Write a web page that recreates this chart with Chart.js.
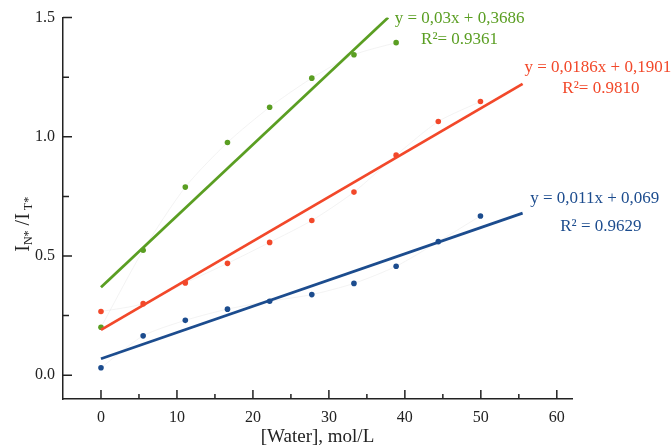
<!DOCTYPE html>
<html>
<head>
<meta charset="utf-8">
<script src="https://cdn.jsdelivr.net/npm/chart.js@4.4.1/dist/chart.umd.min.js"></script>
<style>
  html, body { margin: 0; padding: 0; background: #fff; }
  canvas { display: block; }
</style>
</head>
<body>
<canvas id="chart" width="672" height="447"></canvas>
<script>
// [Water] concentrations, mol/L
let waterX = [0, 5.55, 11.1, 16.65, 22.2, 27.75, 33.3, 38.85, 44.4, 49.95];
let greenY = [0.201, 0.524, 0.789, 0.976, 1.124, 1.246, 1.344, 1.395];
let redY = [0.267, 0.300, 0.387, 0.469, 0.557, 0.649, 0.768, 0.923, 1.064, 1.148];
let blueY = [0.031, 0.165, 0.230, 0.277, 0.310, 0.338, 0.385, 0.457, 0.560, 0.668];

// fitted line end points [x0, x1], [y0, y1]
let greenFitX = [0, 37.8], greenFitY = [0.369, 1.5];
let redFitX = [0, 55.5], redFitY = [0.190, 1.222];
let blueFitX = [0, 55.5], blueFitY = [0.069, 0.680];

let eqLabels = ["y = 0,03x + 0,3686", "y = 0,0186x + 0,1901", "y = 0,011x + 0,069"];
let r2Labels = ["R\u00B2= 0.9361", "R\u00B2= 0.9810", "R\u00B2 = 0.9629"];

let xTicks = [0, 10, 20, 30, 40, 50, 60];
let xMinor = [5, 15, 25, 35, 45, 55];
let yTicks = [0.0, 0.5, 1.0, 1.5];
let yMinor = [0.25, 0.75, 1.25];

let GREEN = "#5a9e22";
let RED = "#f2482a";
let BLUE = "#1c4c8e";
let SERIF = "'Liberation Serif', 'Times New Roman', serif";

function pts(xs, ys) {
  return ys.map((y, i) => ({ x: xs[i], y: y }));
}

function series(label, ys, color) {
  return {
    label: label,
    data: pts(waterX, ys),
    showLine: true,
    borderColor: "rgba(200,200,200,0.22)",
    borderWidth: 1,
    tension: 0.25,
    pointRadius: 2.8,
    pointBorderWidth: 0,
    pointBackgroundColor: color
  };
}

function fit(label, xs, ys, color) {
  return {
    label: label,
    data: pts(xs, ys),
    showLine: true,
    borderColor: color,
    borderWidth: 2.8,
    pointRadius: 0
  };
}

// inward tick marks, equations and the y title with subscripts
let decor = {
  id: "decor",
  afterDraw(chart) {
    let ctx = chart.ctx;
    let xs = chart.scales.x, ys = chart.scales.y;
    let area = chart.chartArea;
    ctx.save();
    ctx.strokeStyle = "#222";
    ctx.lineWidth = 1.5;
    ctx.beginPath();
    xTicks.forEach(v => { let p = xs.getPixelForValue(v); ctx.moveTo(p, area.bottom); ctx.lineTo(p, area.bottom - 9); });
    xMinor.forEach(v => { let p = xs.getPixelForValue(v); ctx.moveTo(p, area.bottom); ctx.lineTo(p, area.bottom - 5); });
    yTicks.forEach(v => { let p = ys.getPixelForValue(v); ctx.moveTo(area.left, p); ctx.lineTo(area.left + 9, p); });
    yMinor.forEach(v => { let p = ys.getPixelForValue(v); ctx.moveTo(area.left, p); ctx.lineTo(area.left + 6, p); });
    ctx.stroke();

    // fit equations
    let notes = [
      [eqLabels[0], GREEN, 47.2, 1.496], [r2Labels[0], GREEN, 47.2, 1.408],
      [eqLabels[1], RED, 65.4, 1.291], [r2Labels[1], RED, 65.8, 1.203],
      [eqLabels[2], BLUE, 65.0, 0.740], [r2Labels[2], BLUE, 65.8, 0.623]
    ];
    ctx.font = "17px " + SERIF;
    ctx.textAlign = "center";
    ctx.textBaseline = "middle";
    notes.forEach(n => {
      ctx.fillStyle = n[1];
      ctx.fillText(n[0], xs.getPixelForValue(n[2]), ys.getPixelForValue(n[3]));
    });

    // y axis title: I_N* /I_T*
    let parts = [["I", 20, 0], ["N*", 12, 5], [" /I", 20, 0], [" T*", 12, 5]];
    let total = 0;
    parts.forEach(p => { ctx.font = p[1] + "px " + SERIF; p.push(ctx.measureText(p[0]).width); total += p[3]; });
    ctx.translate(24, (area.top + area.bottom) / 2 + 16);
    ctx.rotate(-Math.PI / 2);
    ctx.fillStyle = "#222";
    ctx.textAlign = "left";
    let x = -total / 2;
    parts.forEach(p => {
      ctx.font = p[1] + "px " + SERIF;
      ctx.fillText(p[0], x, p[2]);
      x += p[3];
    });
    ctx.restore();
  }
};

let config = {
  type: "scatter",
  data: {
    datasets: [
      fit("green fit", greenFitX, greenFitY, GREEN),
      fit("red fit", redFitX, redFitY, RED),
      fit("blue fit", blueFitX, blueFitY, BLUE),
      series("green", greenY, GREEN),
      series("red", redY, RED),
      series("blue", blueY, BLUE)
    ]
  },
  options: {
    responsive: false,
    animation: false,
    layout: { padding: { top: 17, right: 100, left: 0, bottom: 0 } },
    plugins: { legend: { display: false }, tooltip: { enabled: false } },
    scales: {
      x: {
        type: "linear",
        min: -5,
        max: 62,
        afterBuildTicks: s => { s.ticks = xTicks.map(v => ({ value: v })); },
        afterFit: s => { s.height = 48; },
        grid: { display: false, drawTicks: false },
        border: { display: true, color: "#222", width: 1.5 },
        ticks: { color: "#222", padding: 9, font: { family: SERIF, size: 16 } },
        title: {
          display: true,
          text: "[Water], mol/L",
          color: "#222",
          padding: { top: 0, bottom: 0 },
          font: { family: SERIF, size: 19, lineHeight: 1 }
        }
      },
      y: {
        min: -0.1,
        max: 1.5,
        afterBuildTicks: s => { s.ticks = yTicks.map(v => ({ value: v })); },
        afterFit: s => { s.width = 63; },
        grid: { display: false, drawTicks: false },
        border: { display: true, color: "#222", width: 1.5 },
        ticks: {
          color: "#222",
          padding: 8,
          font: { family: SERIF, size: 16 },
          callback: v => v.toFixed(1)
        }
      }
    }
  },
  plugins: [decor]
};

window.onload = function () {
  new Chart(document.getElementById("chart"), config);
};
</script>
</body>
</html>
